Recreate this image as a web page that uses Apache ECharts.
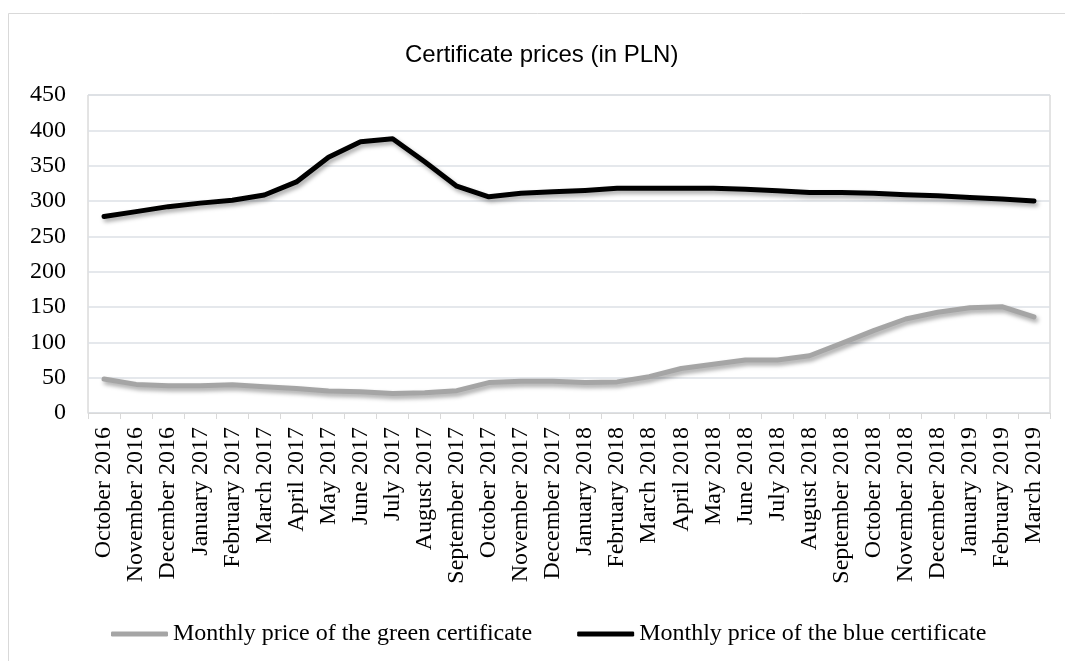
<!DOCTYPE html>
<html>
<head>
<meta charset="utf-8">
<script src="https://cdn.jsdelivr.net/npm/echarts@6/dist/echarts.min.js"></script>
<style>
  html, body { margin: 0; padding: 0; background: #fff; }
  #mainChart { width: 1065px; height: 661px; }
</style>
</head>
<body>
<div id="mainChart"></div>
<script>
var months = ["October 2016", "November 2016", "December 2016", "January 2017", "February 2017",
    "March 2017", "April 2017", "May 2017", "June 2017", "July 2017", "August 2017",
    "September 2017", "October 2017", "November 2017", "December 2017", "January 2018",
    "February 2018", "March 2018", "April 2018", "May 2018", "June 2018", "July 2018",
    "August 2018", "September 2018", "October 2018", "November 2018", "December 2018",
    "January 2019", "February 2019", "March 2019"];
var greenPrice = [48, 40.5, 38.7, 38.7, 40, 37, 34.8, 31, 30, 27.6, 28.8, 31.6, 43, 45, 45,
    43, 44, 51.4, 63, 69, 75, 75, 81, 98.6, 116.5, 133, 142.5, 149, 150.4, 136];
var bluePrice = [278, 285, 292, 297, 301, 308.5, 327, 362, 384, 388, 355.6, 321, 306, 311, 313,
    315, 318, 318, 318, 318, 316.5, 314.6, 312, 312, 311, 309, 307.5, 305, 303, 300];

var myChart = echarts.init(document.getElementById("mainChart"));
var serif = "Liberation Serif";
var shadow = {
    shadowColor: "rgba(0,0,0,0.35)",
    shadowBlur: 4,
    shadowOffsetX: 2,
    shadowOffsetY: 3
};

var option = {
    animation: false,
    backgroundColor: "#fff",
    graphic: [{
        type: "rect",
        shape: { x: 8.5, y: 13.5, width: 1200, height: 800 },
        style: { fill: "none", stroke: "#d9d9d9", lineWidth: 1 },
        silent: true
    }],
    title: {
        text: "Certificate prices (in PLN)",
        left: 400,
        top: 38,
        textStyle: {
            fontFamily: "Liberation Sans",
            fontWeight: "normal",
            fontSize: 24,
            color: "#000"
        }
    },
    grid: {
        left: 88,
        right: 15,
        top: 95,
        bottom: 248,
        show: true,
        borderColor: "#c8c8c8",
        borderWidth: 1
    },
    legend: {
        left: 106,
        top: 617,
        itemGap: 45,
        itemWidth: 57,
        itemHeight: 5,
        icon: "roundRect",
        textStyle: {
            fontFamily: serif,
            fontSize: 24,
            color: "#000"
        },
        data: ["Monthly price of the green certificate", "Monthly price of the blue certificate"]
    },
    xAxis: {
        type: "category",
        data: months,
        boundaryGap: true,
        axisLine: { lineStyle: { color: "#d9d9d9", width: 1 } },
        axisTick: { show: true, length: 6, lineStyle: { color: "#d9d9d9" } },
        axisLabel: {
            rotate: 90,
            interval: 0,
            margin: 14,
            fontFamily: serif,
            fontSize: 24,
            color: "#000"
        }
    },
    yAxis: {
        type: "value",
        min: 0,
        max: 450,
        interval: 50,
        axisLine: { show: false },
        axisTick: { show: false },
        axisLabel: {
            margin: 22,
            fontFamily: serif,
            fontSize: 24,
            color: "#000"
        },
        splitLine: { lineStyle: { color: "#dde1e6", width: 1.5 } }
    },
    series: [{
        name: "Monthly price of the green certificate",
        type: "line",
        data: greenPrice,
        symbol: "none",
        color: "#a5a5a5",
        lineStyle: Object.assign({ color: "#a5a5a5", width: 5, cap: "round", join: "round" }, shadow)
    }, {
        name: "Monthly price of the blue certificate",
        type: "line",
        data: bluePrice,
        symbol: "none",
        color: "#000",
        lineStyle: Object.assign({ color: "#000", width: 5, cap: "round", join: "round" }, shadow)
    }]
};

myChart.setOption(option);
</script>
</body>
</html>
